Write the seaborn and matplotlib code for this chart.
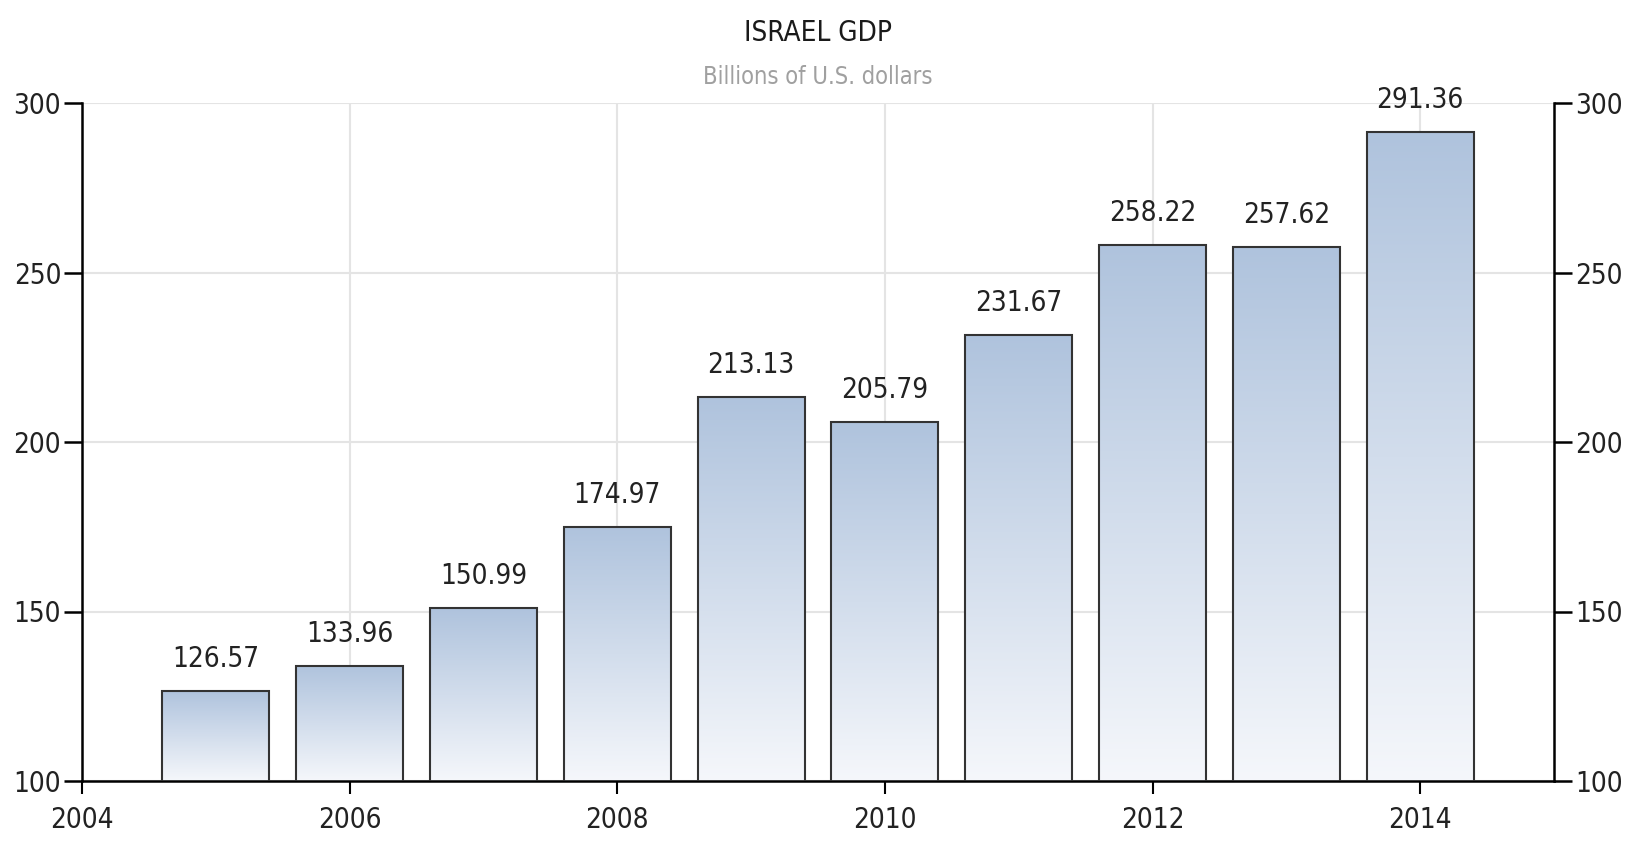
import matplotlib
matplotlib.use("Agg")
import matplotlib.pyplot as plt
import seaborn as sns
import numpy as np
import pandas as pd
from matplotlib.colors import LinearSegmentedColormap

years = [2005, 2006, 2007, 2008, 2009, 2010, 2011, 2012, 2013, 2014]
gdp = [126.57, 133.96, 150.99, 174.97, 213.13, 205.79, 231.67, 258.22, 257.62, 291.36]
x_ticks = [2004, 2006, 2008, 2010, 2012, 2014]
y_ticks = [100, 150, 200, 250, 300]
title = "ISRAEL GDP"
subtitle = "Billions of U.S. dollars"

sns.set_style("white")
plt.rcParams['font.family'] = ['DejaVu Sans']
plt.rcParams['font.stretch'] = 'condensed'

df = pd.DataFrame({"year": years, "gdp": gdp})

fig = plt.figure(figsize=(16.41, 8.5), dpi=100)
ax = fig.add_axes([82/1641, 1-781/850, (1554-82)/1641, (781-103)/850])

sns.barplot(data=df, x="year", y="gdp", native_scale=True, width=0.8, ax=ax,
            color="#B0C4DE", edgecolor="#333333", linewidth=1.5, zorder=3)

ax.set_xlim(2004, 2015)
ax.set_ylim(100, 300)
ax.set_xticks(x_ticks)
ax.set_yticks(y_ticks)
ax.set_xlabel("")
ax.set_ylabel("")

# gradient fill
cmap = LinearSegmentedColormap.from_list("g", ["#F5F7FB", "#AFC3DD"])
grad = np.linspace(0, 1, 256).reshape(-1, 1)
for p in list(ax.patches):
    x0 = p.get_x()
    w = p.get_width()
    h = p.get_height()
    p.set_facecolor("none")
    ax.imshow(grad, cmap=cmap, origin="lower", aspect="auto",
              extent=[x0, x0 + w, 100, h], zorder=2, interpolation="bilinear")
ax.set_xlim(2004, 2015)
ax.set_ylim(100, 300)

fs = 20
# value labels
for yr, v in zip(years, gdp):
    ax.annotate(f"{v:.2f}", xy=(yr, v), xytext=(0, 13), textcoords="offset points",
                ha="center", va="bottom", fontsize=fs, color="#222222", zorder=5)

# grid
ax.grid(True, color="#e4e4e4", linewidth=1.5, zorder=0)
ax.set_axisbelow(True)

# spines
for s in ["left", "bottom", "right"]:
    ax.spines[s].set_visible(True)
    ax.spines[s].set_color("black")
    ax.spines[s].set_linewidth(1.8)
ax.spines["top"].set_visible(False)

ax.tick_params(axis="y", left=True, right=True, labelleft=True, labelright=True,
               length=13, width=1.8, color="black", labelsize=fs, labelcolor="#222222", pad=2)
ax.tick_params(axis="x", bottom=True, length=9, width=1.5, color="black",
               labelsize=fs, labelcolor="#222222", pad=9)

fig.text(818/1641, 1-33/850, title, ha="center", va="center", fontsize=20, color="#1a1a1a")
fig.text(818/1641, 1-77/850, subtitle, ha="center", va="center", fontsize=17, color="#a0a0a0")

fig.savefig("out.png", dpi=100)
